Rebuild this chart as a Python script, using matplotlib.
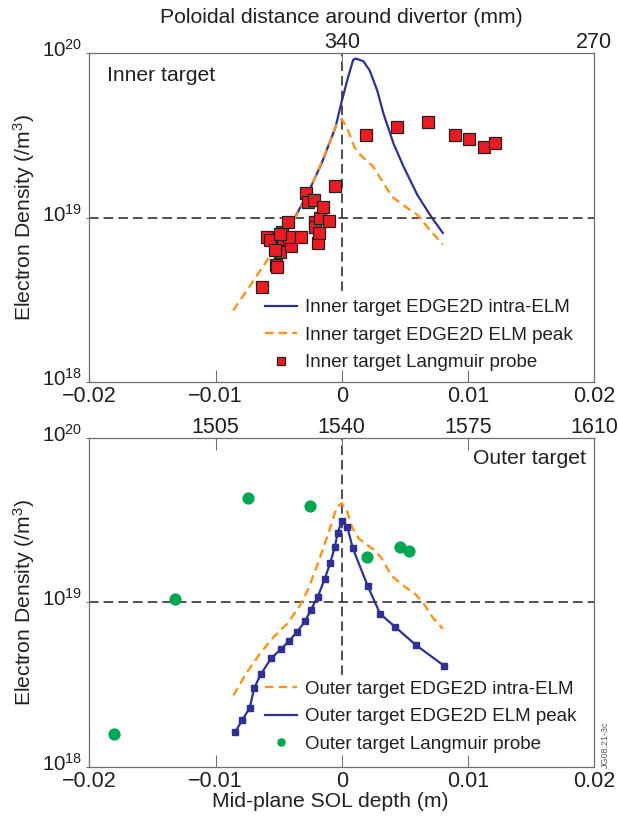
import numpy as np
import matplotlib
matplotlib.use('Agg')
import matplotlib.pyplot as plt
from matplotlib.ticker import NullLocator
from matplotlib.transforms import ScaledTranslation

plt.rcParams['font.family'] = ['Liberation Sans', 'DejaVu Sans']
plt.rcParams['mathtext.fontset'] = 'custom'
plt.rcParams['mathtext.rm'] = 'Liberation Sans'
plt.rcParams['mathtext.it'] = 'Liberation Sans:italic'
plt.rcParams['mathtext.bf'] = 'Liberation Sans:bold'

# densities are in units of 1e19 /m^3, x in metres (mid-plane SOL depth)
E19 = 1e19

# inner target
inner_intra_x = [-0.0037, -0.0027, -0.0016, -0.0005, 0.0, 0.0005, 0.0009, 0.0011,
                 0.0017, 0.0022, 0.0028, 0.0033, 0.0041, 0.0049, 0.0060, 0.0071, 0.0080]
inner_intra_n = [1.01, 1.40, 2.14, 3.55, 5.13, 7.18, 9.12, 9.29,
                 8.97, 7.89, 5.96, 4.30, 2.82, 2.04, 1.37, 1.01, 0.81]

inner_peak_x = [-0.0086, -0.0075, -0.00645, -0.0054, -0.0043, -0.0032, -0.0021, -0.0010,
                -0.0004, 0.0, 0.0004, 0.0010, 0.0015, 0.0025, 0.0033, 0.0040, 0.0049,
                0.0060, 0.0071, 0.0080]
inner_peak_n = [0.274, 0.363, 0.479, 0.631, 0.839, 1.16, 1.77, 2.82,
                3.72, 3.98, 3.55, 2.69, 2.40, 2.04, 1.62, 1.34, 1.19,
                1.04, 0.82, 0.69]

inner_lp_x = [-0.00634, -0.0052, -0.00515, -0.00594, -0.00568, -0.00493, -0.00462, -0.0047,
              -0.00428, -0.00402, -0.00422, -0.00322, -0.00283, -0.00269, -0.00224, -0.00216,
              -0.00216, -0.0019, -0.0018, -0.00172, -0.00145, -0.00105, -0.00053, -0.0049,
              -0.0053, 0.0019, 0.0044, 0.0068, 0.0090, 0.0101, 0.0113, 0.0121]
inner_lp_n = [0.378, 0.516, 0.500, 0.760, 0.733, 0.622, 0.740, 0.822,
              0.946, 0.675, 0.767, 0.760, 1.42, 1.25, 1.29, 0.946,
              0.875, 0.706, 0.805, 0.993, 1.16, 0.959, 1.55, 0.80,
              0.634, 3.19, 3.56, 3.83, 3.18, 3.00, 2.70, 2.86]

# outer target
outer_intra_x = [-0.00859, -0.00759, -0.0065, -0.00542, -0.00434, -0.00339, -0.00271, -0.0019,
                 -0.00108, -0.00041, 0.0, 0.00041, 0.00081, 0.00136, 0.00244, 0.00312,
                 0.00393, 0.00488, 0.00583, 0.0065, 0.00718, 0.0080]
outer_intra_n = [0.271, 0.367, 0.485, 0.612, 0.738, 0.933, 1.18, 1.71,
                 2.60, 3.78, 3.99, 3.61, 2.85, 2.43, 2.11, 1.87,
                 1.45, 1.26, 1.12, 0.977, 0.811, 0.689]

outer_peak_x = [-0.00843, -0.00791, -0.00729, -0.00694, -0.00642, -0.00561, -0.00485, -0.0042,
                -0.00358, -0.0029, -0.00244, -0.0019, -0.00136, -0.00092, -0.00054, -0.00033,
                0.0, 0.00043, 0.00087, 0.00206, 0.00304, 0.00425, 0.00588, 0.00808]
outer_peak_n = [0.163, 0.191, 0.228, 0.301, 0.364, 0.455, 0.516, 0.579,
                0.655, 0.767, 0.902, 1.08, 1.38, 1.73, 2.18, 2.65,
                3.10, 2.88, 2.13, 1.25, 0.849, 0.705, 0.548, 0.412]

outer_lp_x = [-0.01808, -0.0132, -0.00745, -0.00255, 0.00203, 0.00461, 0.00534]
outer_lp_n = [0.157, 1.04, 4.27, 3.85, 1.87, 2.18, 2.04]

xticks = [-0.02, -0.01, 0, 0.01, 0.02]
xticklabels = ['\u22120.02', '\u22120.01', '0', '0.01', '0.02']
yticks = [1e18, 1e19, 1e20]
yticklabels = ['$\\mathregular{10^{18}}$', '$\\mathregular{10^{19}}$', '$\\mathregular{10^{20}}$']
inner_top_ticks = [0, 0.02]
inner_top_labels = ['340', '270']
outer_top_ticks = [-0.01, 0, 0.01, 0.02]
outer_top_labels = ['1505', '1540', '1575', '1610']

NAVY = '#2e3192'
ORANGE = '#f7941d'
RED = '#ed1c24'
GREEN = '#00a651'
INK = '#231f20'
SPINE = '#6d6e71'

W, H = 618, 821
fig = plt.figure(figsize=(W / 100, H / 100), dpi=100)
ax_in = fig.add_axes([89.3 / W, 1 - 382.3 / H, 505 / W, 329 / H])
ax_out = fig.add_axes([89.3 / W, 1 - 766.7 / H, 505 / W, 329 / H])


def setup(ax, top_ticks, top_labels):
    ax.set_yscale('log')
    ax.set_xlim(-0.02, 0.02)
    ax.set_ylim(1e18, 1e20)
    ax.set_xticks(xticks)
    ax.set_xticklabels(xticklabels)
    ax.set_yticks(yticks)
    ax.set_yticklabels(yticklabels)
    ax.yaxis.set_minor_locator(NullLocator())
    ax.tick_params(axis='x', direction='in', length=8.6, width=0.75, color=SPINE,
                   pad=3, labelsize=15.5, labelcolor=INK)
    ax.tick_params(axis='y', direction='out', length=2, width=0.75, color=SPINE,
                   pad=2.8, labelsize=14.8, labelcolor=INK)
    # nudge the power-of-ten labels up a little
    for lab in ax.get_yticklabels():
        lab.set_transform(lab.get_transform() + ScaledTranslation(0, 0.05, fig.dpi_scale_trans))
    for s in ax.spines.values():
        s.set_color(SPINE)
        s.set_linewidth(0.9)

    top = ax.twiny()
    top.set_xlim(-0.02, 0.02)
    top.set_xticks(top_ticks)
    top.set_xticklabels(top_labels)
    top.tick_params(axis='x', direction='in', length=8.6, width=0.75, color=SPINE,
                    pad=0, labelsize=15.5, labelcolor=INK)
    for s in top.spines.values():
        s.set_visible(False)

    # reference lines at 1e19 and zero depth
    ax.axhline(1e19, color=INK, lw=1.1, ls=(0, (6.3, 3.3)), zorder=1)
    ax.vlines(0, 3.6e18, 1e20, color=INK, lw=1.1, linestyles=[(0, (6.3, 3.3))], zorder=1)


setup(ax_in, inner_top_ticks, inner_top_labels)
setup(ax_out, outer_top_ticks, outer_top_labels)

# inner target panel
ax_in.plot(inner_intra_x, np.array(inner_intra_n) * E19, color=NAVY, lw=1.6,
           label='Inner target EDGE2D intra-ELM', zorder=3)
ax_in.plot(inner_peak_x, np.array(inner_peak_n) * E19, color=ORANGE, lw=1.7,
           ls=(0, (3.6, 2.2)), label='Inner target EDGE2D ELM peak', zorder=3)
ax_in.plot(inner_lp_x, np.array(inner_lp_n) * E19, ls='none', marker='s', ms=8.2,
           mfc=RED, mec=INK, mew=0.9, label='Inner target Langmuir probe', zorder=4)
ax_in.text(0.036, 0.917, 'Inner target', transform=ax_in.transAxes, fontsize=15.2,
           color=INK, ha='left', va='baseline')
ax_in.legend(loc='upper left', bbox_to_anchor=(0.347, 0.253), frameon=False,
             fontsize=13.5, handlelength=1.73, handletextpad=0.43, labelspacing=0.55,
             borderpad=0, borderaxespad=0, markerscale=0.75, labelcolor=INK)

# outer target panel
ax_out.plot(outer_intra_x, np.array(outer_intra_n) * E19, color=ORANGE, lw=1.7,
            ls=(0, (3.6, 2.2)), label='Outer target EDGE2D intra-ELM', zorder=3)
ax_out.plot(outer_peak_x, np.array(outer_peak_n) * E19, color=NAVY, lw=1.6,
            label='Outer target EDGE2D ELM peak', zorder=3)
ax_out.plot(outer_peak_x, np.array(outer_peak_n) * E19, ls='none', marker='s', ms=4.2,
            color=NAVY, zorder=3)
ax_out.plot(outer_lp_x, np.array(outer_lp_n) * E19, ls='none', marker='o', ms=8.8,
            mfc=GREEN, mec='none', label='Outer target Langmuir probe', zorder=4)
ax_out.text(0.983, 0.92, 'Outer target', transform=ax_out.transAxes, fontsize=15.2,
            color=INK, ha='right', va='baseline')
ax_out.legend(loc='upper left', bbox_to_anchor=(0.347, 0.262), frameon=False,
              fontsize=13.5, handlelength=1.73, handletextpad=0.43, labelspacing=0.55,
              borderpad=0, borderaxespad=0, markerscale=0.7, labelcolor=INK)

# axis titles
fig.text(341.8 / W, 1 - 22.7 / H, 'Poloidal distance around divertor (mm)',
         fontsize=15.2, color=INK, ha='center', va='baseline')
fig.text(330.7 / W, 1 - 806.7 / H, 'Mid-plane SOL depth (m)',
         fontsize=15.2, color=INK, ha='center', va='baseline')
for yc in (217.8, 602.2):
    fig.text(24 / W, 1 - yc / H, 'Electron Density (/m$^{3}$)', rotation=90,
             fontsize=15.2, color=INK, ha='center', va='center')

fig.text(605 / W, 1 - 744.5 / H, 'JG08.21-3c', rotation=90, fontsize=6.5,
         color='#58595b', ha='center', va='center')

fig.savefig('out.png', dpi=100)
